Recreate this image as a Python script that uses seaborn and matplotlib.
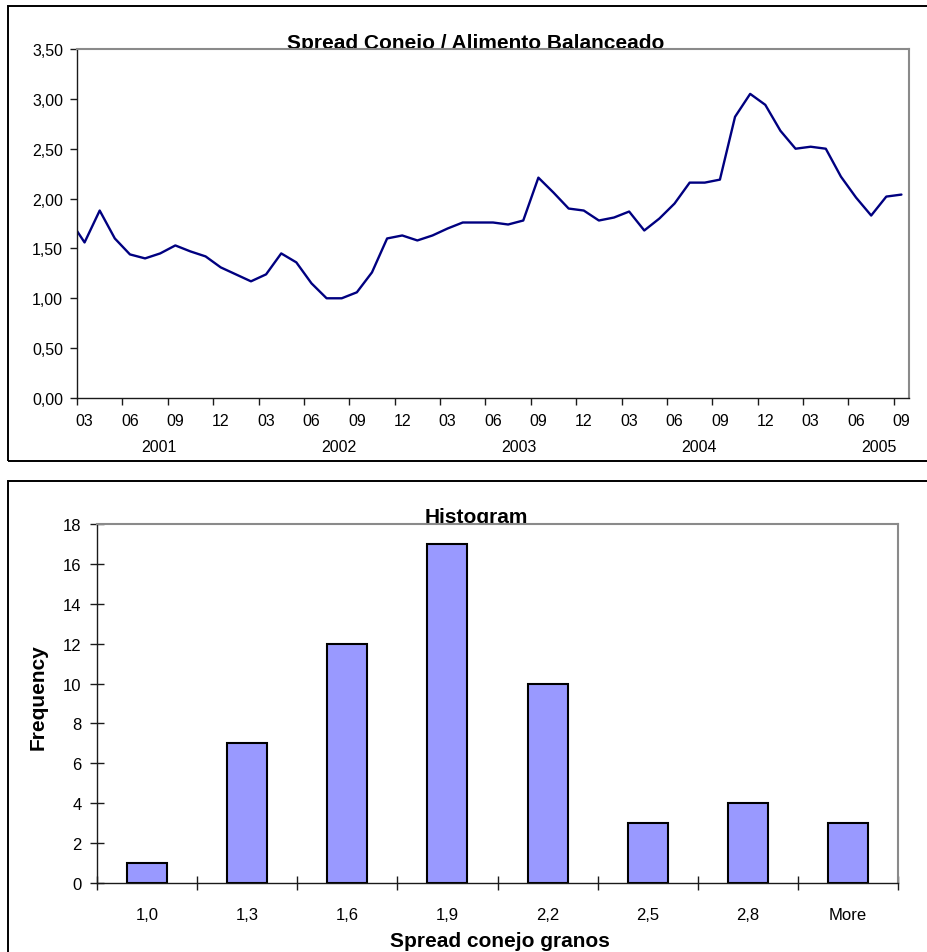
import numpy as np
import pandas as pd
import matplotlib
matplotlib.use("Agg")
import matplotlib.pyplot as plt
import seaborn as sns
from matplotlib.patches import Rectangle

# ---- data -------------------------------------------------------------
# monthly rabbit / feed spread, Feb 2001 .. Sep 2005
spread = [
    1.79,
    1.56, 1.88, 1.60, 1.44, 1.40, 1.45, 1.53, 1.47, 1.42, 1.31,
    1.24, 1.17, 1.24, 1.45, 1.36, 1.15, 1.00, 1.00, 1.06, 1.26, 1.60, 1.63,
    1.58, 1.63, 1.70, 1.76, 1.76, 1.76, 1.74, 1.78, 2.21, 2.06, 1.90, 1.88,
    1.78, 1.81, 1.87, 1.68, 1.80, 1.95, 2.16, 2.16, 2.19, 2.82, 3.05, 2.94,
    2.68, 2.50, 2.52, 2.50, 2.22, 2.01, 1.83, 2.02, 2.04,
]
month_labels = ["03", "06", "09", "12"] * 4 + ["03", "06", "09"]
year_labels = ["2001", "2002", "2003", "2004", "2005"]

# histogram of the spread
bin_labels = ["1,0", "1,3", "1,6", "1,9", "2,2", "2,5", "2,8", "More"]
frequency = [1, 7, 12, 17, 10, 3, 4, 3]

# ---- style ------------------------------------------------------------
sns.set_theme(style="white")
plt.rcParams["font.family"] = ["Liberation Sans", "DejaVu Sans"]
plt.rcParams["text.color"] = "black"

TICK_FS = 11.5

W, H = 927, 953
fig = plt.figure(figsize=(W / 100, H / 100), dpi=100)


def fx(px):
    return px / W


def fy(py):
    return 1 - py / H


ax1 = fig.add_axes([fx(77), fy(399), (909 - 77) / W, (399 - 50) / H])
ax2 = fig.add_axes([fx(97), fy(884), (898 - 97) / W, (884 - 525) / H])

for ax in (ax1, ax2):
    ax.set_facecolor("white")
    for side in ("top", "right"):
        ax.spines[side].set_color("#8a8a8a")
        ax.spines[side].set_linewidth(1.5)
    for side in ("left", "bottom"):
        ax.spines[side].set_color("#1a1a1a")
        ax.spines[side].set_linewidth(1.0)

# ---- line chart ---------------------------------------------------------
start = pd.Period("2001-03", "M")
periods = pd.period_range("2001-02", "2005-09", freq="M")
xpos = np.array([(p - start).n for p in periods]) + 0.5

sns.lineplot(x=xpos, y=spread, ax=ax1, color="#000080", linewidth=1.7)
ax1.set_xlim(0, 55)
ax1.set_ylim(0, 3.5)

ax1.set_xticks(np.arange(0, 55, 3))
ax1.set_xticks(np.arange(0, 55, 3) + 0.5, minor=True)
ax1.set_xticklabels([""] * 19)
ax1.set_xticklabels(month_labels, minor=True)
ax1.tick_params(axis="x", which="major", bottom=True, direction="out",
                length=5, width=1, color="#1a1a1a")
ax1.tick_params(axis="x", which="minor", bottom=True, length=0, pad=11,
                labelsize=TICK_FS, labelcolor="black")

yt = np.arange(0, 3.51, 0.5)
ax1.set_yticks(yt)
ax1.set_yticklabels([f"{v:.2f}".replace(".", ",") for v in yt])
ax1.tick_params(axis="y", left=True, direction="out", length=5, width=1,
                color="#1a1a1a", pad=5, labelsize=TICK_FS, labelcolor="black")
ax1.set_xlabel("")
ax1.set_ylabel("")

for k, yr in enumerate(year_labels):
    ax1.text(5.4 + 11.9 * k, -0.14, yr, transform=ax1.get_xaxis_transform(),
             ha="center", va="center", fontsize=TICK_FS, color="black")

# ---- histogram ----------------------------------------------------------
sns.barplot(x=bin_labels, y=frequency, order=bin_labels, color="#9999FF",
            saturation=1, width=0.4, edgecolor="black", linewidth=1.5, ax=ax2)
ax2.set_xlim(-0.5, 7.5)
ax2.set_ylim(0, 18)
ax2.set_xlabel("")
ax2.set_ylabel("")

ax2.set_xticks(range(len(bin_labels)))
ax2.set_xticklabels(bin_labels)
ax2.set_xticks(np.arange(-0.5, len(bin_labels), 1), minor=True)
ax2.tick_params(axis="x", which="major", bottom=True, length=0, pad=17,
                labelsize=TICK_FS + 0.5, labelcolor="black")
ax2.tick_params(axis="x", which="minor", bottom=True, direction="inout",
                length=10, width=1, color="#1a1a1a")

ax2.set_yticks(range(0, 19, 2))
ax2.tick_params(axis="y", left=True, direction="inout", length=10, width=1,
                color="#1a1a1a", pad=6, labelsize=TICK_FS + 0.5,
                labelcolor="black")

# ---- titles and labels (titles sit just beneath the plot areas) --------
fig.text(fx(476), fy(49), "Spread Conejo / Alimento Balanceado",
         ha="center", va="baseline", fontsize=15, fontweight="bold",
         color="black", zorder=-1)
fig.text(fx(476), fy(523), "Histogram", ha="center", va="baseline",
         fontsize=15, fontweight="bold", color="black", zorder=-1)
fig.text(fx(500), fy(947), "Spread conejo granos", ha="center",
         va="baseline", fontsize=15, fontweight="bold", color="black")
fig.text(fx(38), fy(697), "Frequency", rotation=90, ha="center",
         va="center", fontsize=15, fontweight="bold", color="black")

# ---- chart area frames --------------------------------------------------
fig.add_artist(Rectangle((fx(8), fy(462)), 2.0, (462 - 7) / H, fill=False,
                         edgecolor="black", linewidth=1.4,
                         transform=fig.transFigure))
fig.add_artist(Rectangle((fx(8), -0.2), 2.0, fy(482) + 0.2, fill=False,
                         edgecolor="black", linewidth=1.4,
                         transform=fig.transFigure))

fig.savefig("out.png", dpi=100)
